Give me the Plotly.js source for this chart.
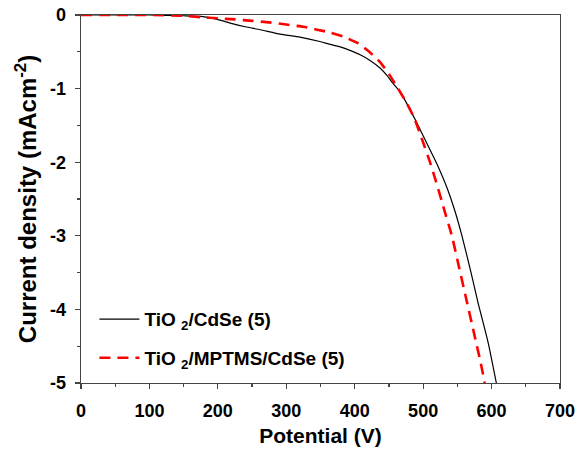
<!DOCTYPE html>
<html>
<head>
<meta charset="utf-8">
<script src="https://cdn.plot.ly/plotly-3.0.1.min.js"></script>
<style>html,body{margin:0;padding:0;background:#fff;}#chart{width:582px;height:449px;}</style>
</head>
<body>
<div id="chart"></div>
<script>
// TiO2/CdSe (5) — solid black
const cdseV = [0, 50, 100, 150, 175, 203, 218, 240, 262, 291, 320, 349, 364, 378, 393, 408, 423, 437, 447, 456, 465, 473, 480, 490, 500, 510, 520, 535, 547, 557, 570, 580, 595, 607];
const cdseJ = [0, 0, 0, -0.01, -0.02, -0.07, -0.11, -0.16, -0.20, -0.26, -0.30, -0.36, -0.40, -0.43, -0.48, -0.54, -0.62, -0.72, -0.82, -0.93, -1.03, -1.15, -1.27, -1.45, -1.64, -1.83, -2.02, -2.35, -2.68, -3.01, -3.5, -3.9, -4.45, -5.0];
// TiO2/MPTMS/CdSe (5) — dashed red
const mptmsV = [0, 50, 100, 150, 175, 200, 225, 250, 275, 300, 325, 345, 365, 385, 404, 420, 437, 450, 462, 475, 487, 498, 510, 520, 530, 542, 553, 564, 575, 584, 590];
const mptmsJ = [0, 0, 0, -0.01, -0.03, -0.045, -0.06, -0.08, -0.10, -0.13, -0.16, -0.20, -0.24, -0.30, -0.38, -0.49, -0.64, -0.80, -0.98, -1.18, -1.40, -1.68, -2.0, -2.3, -2.62, -3.0, -3.45, -3.9, -4.35, -4.72, -5.0];

const seriesNames = ['<b>TiO <sub>2</sub>/CdSe (5)</b>', '<b>TiO <sub>2</sub>/MPTMS/CdSe (5)</b>'];
const xTickVals = [0, 100, 200, 300, 400, 500, 600, 700];
const xTickText = ['0', '100', '200', '300', '400', '500', '600', '700'];
const yTickVals = [0, -1, -2, -3, -4, -5];
const yTickText = ['0', '-1', '-2', '-3', '-4', '-5'];

const fontFam = 'Liberation Sans, Arial, sans-serif';
const bold = arr => arr.map(t => '<b>' + t + '</b>');

const traces = [
  {x: cdseV, y: cdseJ, name: seriesNames[0], legendgroup: 'a', type: 'scatter', mode: 'lines',
   line: {color: '#000000', width: 1.2, shape: 'spline', smoothing: 0.5}},
  {x: mptmsV, y: mptmsJ, name: seriesNames[1], legendgroup: 'b', type: 'scatter', mode: 'lines',
   line: {color: '#ff0000', width: 2.6, dash: '11px,7px', shape: 'spline', smoothing: 0.5}}
];

const layout = {
  width: 582, height: 449,
  margin: {l: 81, r: 22, t: 15, b: 66},
  paper_bgcolor: '#ffffff', plot_bgcolor: '#ffffff',
  font: {family: fontFam, size: 15, color: '#000'},
  showlegend: true,
  legend: {x: 0.028, y: 0.225, xanchor: 'left', yanchor: 'top', bgcolor: 'rgba(0,0,0,0)',
           font: {family: fontFam, size: 19, color: '#000'}, itemwidth: 40, tracegroupgap: 11},
  xaxis: {
    range: [0, 700], tickvals: xTickVals, ticktext: bold(xTickText), showgrid: false, zeroline: false,
    showline: true, linecolor: '#444', linewidth: 1.3, mirror: true,
    ticks: 'outside', ticklen: 5, tickwidth: 1.2, tickcolor: '#444', ticklabelstandoff: 6,
    minor: {dtick: 50, ticks: 'outside', ticklen: 3, tickcolor: '#444', showgrid: false},
    tickfont: {family: fontFam, size: 18, color: '#000', weight: 700},
    title: {text: '<b>Potential (V)</b>', font: {family: fontFam, size: 21, color: '#000'}, standoff: 8}
  },
  yaxis: {
    range: [-5, 0], tickvals: yTickVals, ticktext: bold(yTickText), showgrid: false, zeroline: false,
    showline: true, linecolor: '#444', linewidth: 1.3, mirror: true,
    ticks: 'outside', ticklen: 5, tickwidth: 1.2, tickcolor: '#444', ticklabelstandoff: 5,
    minor: {dtick: 0.5, ticks: 'outside', ticklen: 3, tickcolor: '#444', showgrid: false},
    tickfont: {family: fontFam, size: 18, color: '#000', weight: 700},
    title: {text: '<b>Current density (mAcm<sup>-2</sup>)</b>', font: {family: fontFam, size: 24, color: '#000'}, standoff: 6}
  }
};

Plotly.newPlot('chart', traces, layout, {displayModeBar: false, staticPlot: true});
</script>
</body>
</html>
